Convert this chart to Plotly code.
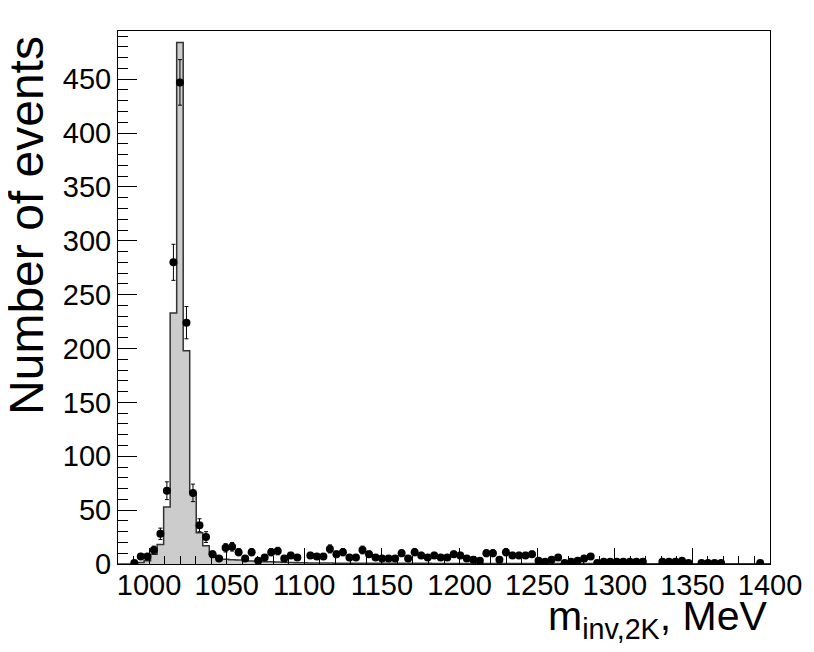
import numpy as np
import plotly.graph_objects as go

# binning: 100 bins from 980 to 1400 MeV
x_lo = 980.0
x_hi = 1400.0
n_bins = 100

# simulated (grey) histogram contents per bin
mc_counts = [
    0, 0, 0, 1.5, 3, 9, 18, 53, 233, 484,
    198, 66, 29, 17, 9, 5.5, 4.5, 4, 3.6, 3.2,
    2.8, 2.5, 2.2, 2, 1.8, 1.6, 1.4, 1.2, 1.1, 1,
    0.9, 0.9, 0.9, 0.8, 0.8, 0.8, 0.8, 0.7, 0.7, 0.7,
    0.7, 0.7, 0.6, 0.6, 0.6, 0.6, 0.6, 0.6, 0.5, 0.5,
    0.5, 0.5, 0.5, 0.5, 0.5, 0.5, 0.5, 0.5, 0.5, 0.5,
    0.4, 0.4, 0.4, 0.4, 0.4, 0.4, 0.4, 0.4, 0.4, 0.4,
    0.4, 0.4, 0.4, 0.4, 0.3, 0.3, 0.3, 0.3, 0.3, 0.3,
    0.3, 0.3, 0.3, 0.3, 0.3, 0.3, 0.3, 0.3, 0.3, 0.3,
    0.3, 0.3, 0.3, 0.3, 0.3, 0.3, 0.3, 0.3, 0.3, 0.3,
]

# measured events per bin
data_counts = [
    0, 0, 1, 7, 7, 13, 28, 68, 280, 447,
    224, 66, 36, 25, 9, 5, 15, 16, 11, 5,
    11, 3, 6, 11, 12, 5, 8, 6, 0, 8,
    7, 7, 14, 9, 11, 6, 6, 13, 9, 6,
    5, 5, 5, 10, 5, 11, 8, 6, 8, 6,
    6, 9, 8, 5, 4, 3, 10, 10, 4, 11,
    8, 8, 8, 9, 3, 2, 4, 6, 1, 2,
    3, 5, 7, 1, 2, 2, 2, 2, 2, 2,
    2, 0, 0, 2, 2, 2, 3, 1, 0, 1,
    1, 1, 1, 0, 0, 0, 0, 0, 1, 0,
]

x_ticks = [1000, 1050, 1100, 1150, 1200, 1250, 1300, 1350, 1400]
y_ticks = [0, 50, 100, 150, 200, 250, 300, 350, 400, 450]

edges = np.linspace(x_lo, x_hi, n_bins + 1)
centers = 0.5 * (edges[:-1] + edges[1:])

mc = np.array(mc_counts, dtype=float)
dat = np.array(data_counts, dtype=float)
keep = dat > 0

FONT = "Liberation Sans, Arial, Helvetica, sans-serif"

fig = go.Figure()

# grey step histogram
fig.add_trace(
    go.Scatter(
        x=edges,
        y=np.append(mc, mc[-1]),
        mode="lines",
        line=dict(shape="hv", color="#333333", width=1.5),
        fill="tozeroy",
        fillcolor="#cccccc",
        hoverinfo="skip",
        showlegend=False,
    )
)

# data points with Poisson errors
fig.add_trace(
    go.Scatter(
        x=centers[keep],
        y=dat[keep],
        mode="markers",
        marker=dict(color="black", size=8),
        error_y=dict(
            type="data",
            array=np.sqrt(dat[keep]),
            color="black",
            thickness=1,
            width=2,
        ),
        showlegend=False,
    )
)

# page body has an 8px margin, so the figure is a bit smaller than the window
fig.update_layout(
    width=806,
    height=644,
    plot_bgcolor="white",
    paper_bgcolor="white",
    margin=dict(l=110, r=33, t=23, b=88),
    font=dict(family=FONT, color="black"),
    annotations=[
        dict(
            text="Number of events",
            textangle=-90,
            xref="paper",
            yref="paper",
            x=(26 - 118) / 655,
            y=1.0 - 3 / 533,
            xanchor="center",
            yanchor="top",
            showarrow=False,
            font=dict(size=48, family=FONT, color="black"),
        ),
        dict(
            text="m<sub>inv,2K</sub>, MeV",
            xref="paper",
            yref="paper",
            x=1.0,
            y=-0.05,
            xanchor="right",
            yanchor="top",
            showarrow=False,
            font=dict(size=41, family=FONT, color="black"),
        ),
    ],
)

fig.update_xaxes(
    range=[x_lo, x_hi],
    tickvals=x_ticks,
    ticktext=[str(v) for v in x_ticks],
    ticks="inside",
    ticklen=16,
    tickwidth=1,
    tickcolor="black",
    ticklabelstandoff=-5,
    minor=dict(ticks="inside", ticklen=8, dtick=10, tick0=1000, tickcolor="black", tickwidth=1),
    showline=True,
    linecolor="black",
    linewidth=1,
    mirror=True,
    showgrid=False,
    zeroline=False,
    tickfont=dict(size=29, family=FONT, color="black"),
)
fig.update_yaxes(
    range=[0, 494.7],
    tickvals=y_ticks,
    ticks="inside",
    ticklen=19,
    tickwidth=1,
    tickcolor="black",
    minor=dict(ticks="inside", ticklen=10, dtick=10, tick0=0, tickcolor="black", tickwidth=1),
    showline=True,
    linecolor="black",
    linewidth=1,
    mirror=True,
    showgrid=False,
    zeroline=False,
    tickfont=dict(size=29, family=FONT, color="black"),
)

fig.write_html("out.html")
